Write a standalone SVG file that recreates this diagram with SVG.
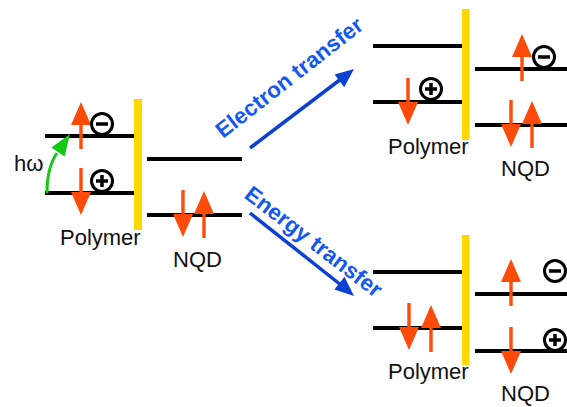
<svg xmlns="http://www.w3.org/2000/svg" width="567" height="407" viewBox="0 0 567 407">
<style>
.lv{stroke:#000;stroke-width:4;fill:none}
.bar{fill:#ffd800}
.ra{fill:#ff4a0a}
.t{font-family:"Liberation Sans",Arial,sans-serif;font-size:22px;fill:#111}
.bt{font-family:"Liberation Sans",Arial,sans-serif;font-size:22.5px;font-weight:bold;fill:#1558f0}
.ch{fill:#fff;stroke:#000;stroke-width:3}
.sg{stroke:#000;stroke-width:3.5;fill:none}
.ba{stroke:#0b40d0;stroke-width:3.5;fill:none}
.bh{fill:#0b40d0}
</style>
<defs>
<path id="ar" d="M-1.7,0 V-24 H-10 L0,-47 L10,-24 H1.7 V0 Z"/>
<g id="minus"><circle class="ch" r="10.5"/><path class="sg" d="M-6,0 H6"/></g>
<g id="plus"><circle class="ch" r="10.5"/><path class="sg" d="M-6,0 H6 M0,-6 V6"/></g>
</defs>

<g id="initial">
<rect class="bar" x="134" y="99" width="8" height="131"/>
<path class="lv" d="M45,136 H134 M45,193 H134 M147,159 H242 M147,215 H242"/>
<use class="ra" href="#ar" transform="translate(81,149)"/>
<use class="ra" href="#ar" transform="translate(81,168) rotate(180)"/>
<use class="ra" href="#ar" transform="translate(183,190) rotate(180)"/>
<use class="ra" href="#ar" transform="translate(204,238)"/>
<use href="#minus" x="102" y="124"/>
<use href="#plus" x="102" y="181"/>
<path d="M47,193 C47,176 50,163 57,153" stroke="#14c814" stroke-width="3" fill="none"/>
<polygon points="70,134 64.6,156.4 51.4,147.6" fill="#14c814"/>
<text class="t" x="14" y="171">hω</text>
<text class="t" x="60" y="245">Polymer</text>
<text class="t" x="173" y="267">NQD</text>
</g>

<g id="electron-transfer-state">
<rect class="bar" x="462" y="9" width="7.5" height="131"/>
<path class="lv" d="M373,46 H462 M373,102 H462 M475,69 H567 M475,125 H567"/>
<use class="ra" href="#ar" transform="translate(408,78) rotate(180)"/>
<use class="ra" href="#ar" transform="translate(522,81)"/>
<use class="ra" href="#ar" transform="translate(511,100) rotate(180)"/>
<use class="ra" href="#ar" transform="translate(532,148)"/>
<use href="#plus" x="431" y="89"/>
<use href="#minus" x="544" y="57"/>
<text class="t" x="388" y="154">Polymer</text>
<text class="t" x="501" y="176">NQD</text>
</g>

<g id="energy-transfer-state">
<rect class="bar" x="462" y="235" width="7.5" height="130"/>
<path class="lv" d="M373,272 H462 M373,328 H462 M475,294 H567 M475,351 H567"/>
<use class="ra" href="#ar" transform="translate(409,303) rotate(180)"/>
<use class="ra" href="#ar" transform="translate(431,352)"/>
<use class="ra" href="#ar" transform="translate(511,306)"/>
<use class="ra" href="#ar" transform="translate(511,327) rotate(180)"/>
<use href="#minus" x="555" y="271"/>
<use href="#plus" x="555" y="340"/>
<text class="t" x="388" y="379">Polymer</text>
<text class="t" x="501" y="401">NQD</text>
</g>

<g id="connectors">
<path class="ba" d="M250,148 L341,79"/>
<polygon class="bh" points="354,69 334.6,74.5 344.2,87.2"/>
<path class="ba" d="M250,213 L341,285"/>
<polygon class="bh" points="354,296 344.5,276.8 334.4,289.4"/>
<text class="bt" transform="translate(223,139) rotate(-38)">Electron transfer</text>
<text class="bt" transform="translate(243,197) rotate(37.5)">Energy transfer</text>
</g>
</svg>
